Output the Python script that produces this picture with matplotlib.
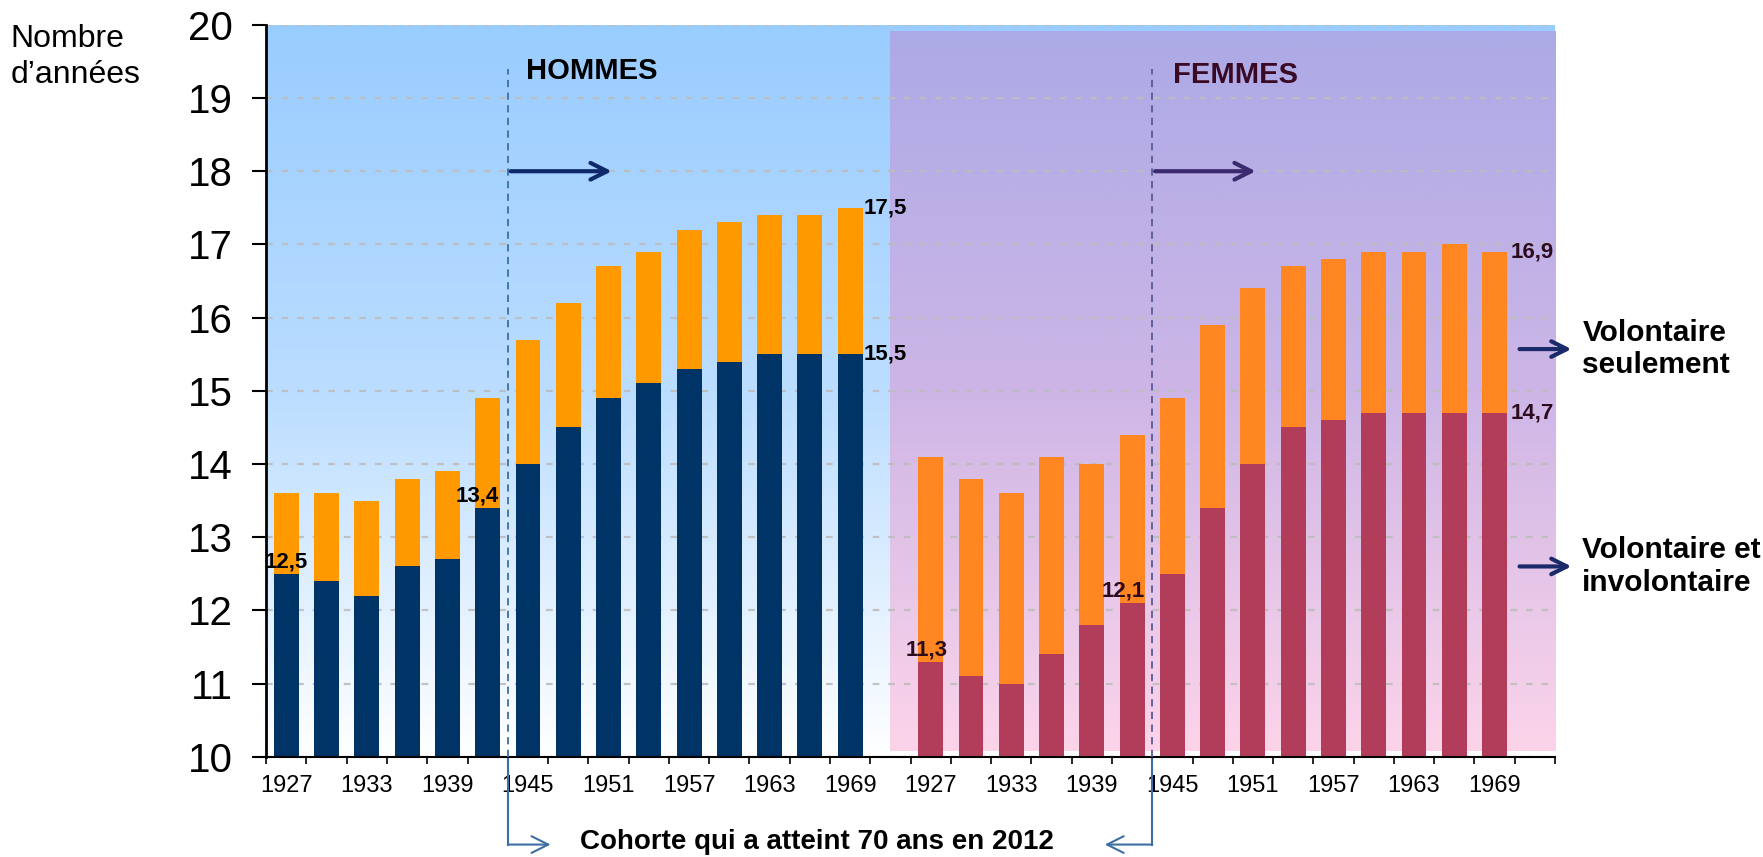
import numpy as np
import matplotlib.pyplot as plt
from matplotlib.colors import LinearSegmentedColormap

plt.rcParams['font.family'] = ['Liberation Sans', 'DejaVu Sans']

# annees de naissance (cohortes)
annees = [1927, 1930, 1933, 1936, 1939, 1942, 1945, 1948, 1951, 1954, 1957, 1960, 1963, 1966, 1969]
# hommes : total (volontaire seulement) et volontaire + involontaire
h_total = [13.6, 13.6, 13.5, 13.8, 13.9, 14.9, 15.7, 16.2, 16.7, 16.9, 17.2, 17.3, 17.4, 17.4, 17.5]
h_invol = [12.5, 12.4, 12.2, 12.6, 12.7, 13.4, 14.0, 14.5, 14.9, 15.1, 15.3, 15.4, 15.5, 15.5, 15.5]
# femmes
f_total = [14.1, 13.8, 13.6, 14.1, 14.0, 14.4, 14.9, 15.9, 16.4, 16.7, 16.8, 16.9, 16.9, 17.0, 16.9]
f_invol = [11.3, 11.1, 11.0, 11.4, 11.8, 12.1, 12.5, 13.4, 14.0, 14.5, 14.6, 14.7, 14.7, 14.7, 14.7]

n = len(annees)
xh = np.arange(n)
xf = np.arange(n) + n + 1
ncat = 2 * n + 2

fig = plt.figure(figsize=(17.63, 8.57), dpi=100)
ax = fig.add_axes([0.151, 0.117, 0.731, 0.854])
ax.set_xlim(-0.5, ncat - 0.5)
ax.set_ylim(10, 20)

# fonds en degrade
bleu = LinearSegmentedColormap.from_list('bleu', ['#FFFFFF', '#BBDDFF', '#99CCFF'])
grad = np.linspace(0, 1, 256).reshape(-1, 1)
ax.imshow(grad, cmap=bleu, origin='lower', aspect='auto',
          extent=[-0.5, ncat - 0.5, 10, 20], zorder=0)
rose = LinearSegmentedColormap.from_list('rose', ['#FCD4EA', '#CDB6E6', '#ACAAE6'])
ax.imshow(grad, cmap=rose, origin='lower', aspect='auto',
          extent=[14.98, ncat - 0.5, 10.08, 19.91], zorder=0.2)

ax.set_axisbelow(True)
ax.yaxis.grid(True, color='#BDBDBD', linestyle=(0, (3, 4)), linewidth=1.6, alpha=0.9)

w = 0.62
ax.bar(xh, h_invol, w, color='#003366')
ax.bar(xh, np.array(h_total) - np.array(h_invol), w, bottom=h_invol, color='#FF9900')
ax.bar(xf, f_invol, w, color='#B23D5A')
ax.bar(xf, np.array(f_total) - np.array(f_invol), w, bottom=f_invol, color='#FF8620')

# axes
for s in ['top', 'right']:
    ax.spines[s].set_visible(False)
ax.spines['left'].set_linewidth(2)
ax.spines['bottom'].set_linewidth(1.5)
ax.set_yticks(range(10, 21))
ax.tick_params(axis='y', length=10, width=1.5, pad=14, labelsize=29)
ax.set_xticks(np.arange(ncat + 1) - 0.5)
ax.set_xticklabels([])
ax.tick_params(axis='x', which='major', length=5, width=1.2)
lab_pos = list(xh[::2]) + list(xf[::2])
lab_txt = [str(a) for a in annees[::2]] * 2
ax.set_xticks(lab_pos, minor=True)
ax.set_xticklabels(lab_txt, minor=True)
ax.tick_params(axis='x', which='minor', length=0, pad=13, labelsize=17)

# valeurs
bold = dict(fontsize=16, fontweight='bold')
ax.text(xh[0], h_invol[0] + 0.02, '12,5', ha='center', va='bottom', color='black', **bold)
ax.text(xh[5] - 0.25, h_invol[5] + 0.02, '13,4', ha='center', va='bottom', color='black', **bold)
ax.text(xh[-1] + 0.33, h_total[-1], '17,5', ha='left', va='center', color='black', **bold)
ax.text(xh[-1] + 0.33, h_invol[-1], '15,5', ha='left', va='center', color='black', **bold)
fcol = '#2D0B1E'
ax.text(xf[0] - 0.1, f_invol[0] + 0.02, '11,3', ha='center', va='bottom', color=fcol, **bold)
ax.text(xf[5] - 0.21, f_invol[5] + 0.02, '12,1', ha='center', va='bottom', color=fcol, **bold)
ax.text(xf[-1] + 0.4, f_total[-1], '16,9', ha='left', va='center', color=fcol, **bold)
ax.text(xf[-1] + 0.4, f_invol[-1], '14,7', ha='left', va='center', color=fcol, **bold)

# titres et fleches
ax.text(5.95, 19.37, 'HOMMES', ha='left', va='center', fontsize=21, fontweight='bold', color='black')
ax.text(22.02, 19.32, 'FEMMES', ha='left', va='center', fontsize=21, fontweight='bold', color='#3A0A25')

ax.plot([5.5, 5.5], [10, 19.4], color='#3D6FA5', lw=1.3, ls=(0, (4, 3)), zorder=3)
ax.plot([21.5, 21.5], [10, 19.4], color='#5A5A94', lw=1.3, ls=(0, (4, 3)), zorder=3)
ax.annotate('', xy=(8.15, 18), xytext=(5.5, 18),
            arrowprops=dict(arrowstyle='->', color='#0F2A6B', lw=3, mutation_scale=30), zorder=4)
ax.annotate('', xy=(24.14, 18), xytext=(21.5, 18),
            arrowprops=dict(arrowstyle='->', color='#3B2A6E', lw=3, mutation_scale=30), zorder=4)

# cohorte 70 ans en 2012
ybas = 8.8
ax.plot([5.5, 5.5], [10, ybas], color='#3D6FA5', lw=1.5, clip_on=False)
ax.plot([21.5, 21.5], [10, ybas], color='#3D6FA5', lw=1.5, clip_on=False)
ax.annotate('', xy=(6.56, ybas), xytext=(5.5, ybas), annotation_clip=False,
            arrowprops=dict(arrowstyle='->', color='#3D6FA5', lw=1.5, mutation_scale=30,
                            shrinkA=0, shrinkB=0))
ax.annotate('', xy=(20.32, ybas), xytext=(21.5, ybas), annotation_clip=False,
            arrowprops=dict(arrowstyle='->', color='#3D6FA5', lw=1.5, mutation_scale=30,
                            shrinkA=0, shrinkB=0))
ax.text(13.17, ybas + 0.03, 'Cohorte qui a atteint 70 ans en 2012', ha='center', va='center',
        fontsize=20, fontweight='bold', clip_on=False)

# legende a droite
for yv, txt in [(15.57, 'Volontaire\nseulement'), (12.6, 'Volontaire et\ninvolontaire')]:
    ax.annotate('', xy=(31.91, yv), xytext=(30.62, yv), annotation_clip=False,
                arrowprops=dict(arrowstyle='->', color='#1A2A6B', lw=3, mutation_scale=28,
                                shrinkA=0, shrinkB=0))
    ax.text(32.18, yv, txt, ha='left', va='center', fontsize=21.5, fontweight='bold',
            linespacing=1.2, clip_on=False)

fig.text(0.006, 0.972, 'Nombre\nd\u2019ann\u00e9es', ha='left', va='top', fontsize=23, linespacing=1.25)

fig.savefig('out.png', dpi=100)
